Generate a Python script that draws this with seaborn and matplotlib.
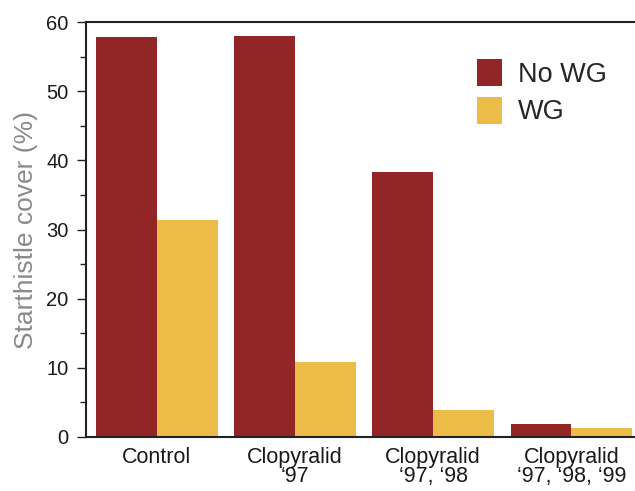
import matplotlib
matplotlib.use("Agg")
import matplotlib.pyplot as plt
from matplotlib.ticker import MultipleLocator
import seaborn as sns
import pandas as pd

categories = ["Control", "Clopyralid\n\u201897", "Clopyralid\n\u201897, \u201898", "Clopyralid\n\u201897, \u201898, \u201899"]
no_wg = [57.8, 58.0, 38.3, 1.9]
wg = [31.4, 10.8, 3.9, 1.3]
series = ["No WG", "WG"]
colors = ["#922626", "#EDBB47"]

df = pd.DataFrame({
    "treatment": categories * 2,
    "cover": no_wg + wg,
    "group": [series[0]] * len(categories) + [series[1]] * len(categories),
})

sns.set_style("white")
plt.rcParams["font.family"] = ["Liberation Sans", "DejaVu Sans"]

fig = plt.figure(figsize=(6.35, 4.91), dpi=100)
ax = fig.add_axes([0.1354, 0.110, 0.8646, 0.845])
sns.barplot(data=df, x="treatment", y="cover", hue="group", palette=colors,
            width=0.88, gap=0, ax=ax, saturation=1, edgecolor="none", linewidth=0)

ax.set_xlim(-0.513, 3.46)
ax.set_ylim(0, 60)
ax.yaxis.set_major_locator(MultipleLocator(10))
ax.yaxis.set_minor_locator(MultipleLocator(5))
ax.tick_params(axis="y", which="major", direction="out", length=6.5, width=1, color="#222222",
               labelsize=14.5, left=True, pad=6)
ax.tick_params(axis="y", which="minor", direction="out", length=4, width=1, color="#222222", left=True)
ax.tick_params(axis="x", length=0, labelsize=15.5, pad=7)
for lab in ax.get_xticklabels():
    lab.set_linespacing(0.92)
for lab in ax.get_xticklabels() + ax.get_yticklabels():
    lab.set_color("#1a1a1a")
ax.set_xlabel("")
ax.set_ylabel("Starthistle cover (%)", fontsize=19, color="#8a8a8a", labelpad=6)

for s in ["left", "bottom", "top"]:
    ax.spines[s].set_visible(True)
    ax.spines[s].set_color("#222222")
    ax.spines[s].set_linewidth(1.5)
ax.spines["right"].set_visible(False)

leg = ax.legend(loc="upper left", bbox_to_anchor=(0.712, 0.91), frameon=False, fontsize=19.5,
                handlelength=0.92, handleheight=1.15, handletextpad=0.6, labelspacing=0.32,
                borderpad=0, borderaxespad=0)

fig.savefig("out.png", dpi=100)
